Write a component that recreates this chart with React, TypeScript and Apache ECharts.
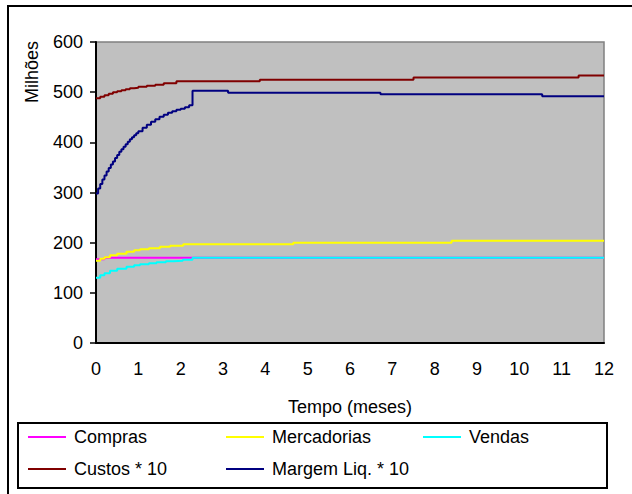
import React, { useEffect, useRef } from "react";
import * as echarts from "echarts";

const xTicks = [0, 12];
const yTicks = [0, 600];

const comprasT = [0, 0.2, 12];
const comprasV = [167, 170, 170];

const mercT = [0, 0.1, 0.2, 0.33, 0.5, 0.72, 0.9, 1.04, 1.25, 1.51, 1.75, 2.06, 4.66, 8.4, 12];
const mercV = [164, 168, 171, 175, 178, 182, 185, 187, 189, 192, 194, 197, 200, 204, 204];

const vendasT = [0, 0.1, 0.2, 0.33, 0.5, 0.72, 0.9, 1.04, 1.25, 1.43, 1.65, 1.83, 2.05, 2.28, 12];
const vendasV = [130, 135, 139, 144, 148, 152, 155, 157, 159, 161, 163, 164, 166, 170, 170];

const custosT = [0, 0.1, 0.2, 0.3, 0.4, 0.5, 0.6, 0.7, 0.8, 0.9, 1.0, 1.2, 1.4, 1.6, 1.9, 3.87, 7.5, 11.4, 12];
const custosV = [488, 491, 494, 497, 500, 502, 504, 506, 508, 509, 511, 513, 515, 518, 522, 525, 529, 533, 533];

const margemT = [0, 0.05, 0.1, 0.15, 0.2, 0.25, 0.3, 0.35, 0.4, 0.45, 0.5, 0.55, 0.6, 0.65, 0.7, 0.75, 0.8, 0.85, 0.9, 0.95, 1.0, 1.1, 1.2, 1.3, 1.4, 1.5, 1.6, 1.7, 1.8, 1.9, 2.0, 2.1, 2.2, 2.28, 3.12, 6.72, 10.54, 12];
const margemV = [298, 308, 317, 326, 334, 342, 349, 356, 362, 369, 375, 381, 386, 391, 396, 401, 406, 410, 414, 418, 422, 429, 435, 441, 446, 451, 455, 459, 462, 465, 467, 470, 474, 503, 499, 496, 492, 492];

const names = ["Compras", "Mercadorias", "Vendas", "Custos * 10", "Margem Liq. * 10"];
const colors = ["#FF00FF", "#FFFF00", "#00FFFF", "#800000", "#000080"];

const FONT = "'Liberation Sans', Arial, sans-serif";
const FS = 18;

function pairs(t: number[], v: number[]) {
  return t.map((x, i) => [x, v[i]]);
}

export default function App() {
  const ref = useRef<HTMLDivElement>(null);
  useEffect(() => {
    if (!ref.current) return;
    const chart = echarts.init(ref.current, null, { renderer: "svg" });
    const seriesData = [
      pairs(comprasT, comprasV),
      pairs(mercT, mercV),
      pairs(vendasT, vendasV),
      pairs(custosT, custosV),
      pairs(margemT, margemV),
    ];
    const legendPos = [
      { left: 28, top: 428 },
      { left: 226, top: 428 },
      { left: 423, top: 428 },
      { left: 28, top: 460 },
      { left: 226, top: 460 },
    ];
    chart.setOption({
      animation: false,
      backgroundColor: "#FFFFFF",
      textStyle: { fontFamily: FONT },
      grid: {
        left: 96,
        top: 42,
        width: 508,
        height: 301,
        show: true,
        backgroundColor: "#C0C0C0",
        borderColor: "#808080",
        borderWidth: 1.5,
      },
      xAxis: {
        type: "value",
        min: xTicks[0],
        max: xTicks[1],
        interval: 1,
        name: "Tempo (meses)",
        nameLocation: "middle",
        nameGap: 55,
        nameTextStyle: { fontSize: FS, color: "#000", fontFamily: FONT },
        axisLine: { show: true, onZero: false, lineStyle: { color: "#000", width: 2 } },
        axisTick: { show: false },
        axisLabel: { fontSize: FS, color: "#000", margin: 17, fontFamily: FONT },
        splitLine: { show: false },
      },
      yAxis: {
        type: "value",
        min: yTicks[0],
        max: yTicks[1],
        interval: 100,
        axisLine: { show: true, lineStyle: { color: "#000", width: 2 } },
        axisTick: { show: true, length: 6, lineStyle: { color: "#000", width: 1.5 } },
        axisLabel: { fontSize: FS, color: "#000", margin: 13, fontFamily: FONT },
        splitLine: { show: false },
      },
      legend: names.map((n, i) => ({
        data: [n],
        left: legendPos[i].left,
        top: legendPos[i].top,
        padding: 0,
        icon: "rect",
        itemWidth: 38,
        itemHeight: 2,
        itemGap: 0,
        selectedMode: false,
        textStyle: { fontSize: FS, color: "#000", fontFamily: FONT, padding: [0, 0, 0, 3] },
      })),
      graphic: [
        {
          type: "rect",
          shape: { x: 8, y: 6, width: 640, height: 510 },
          style: { fill: "none", stroke: "#000", lineWidth: 2 },
          silent: true,
          z: -1,
        },
        {
          type: "rect",
          shape: { x: 18, y: 423, width: 589, height: 65 },
          style: { fill: "#FFFFFF", stroke: "#000", lineWidth: 2 },
          silent: true,
          z: -1,
        },
        {
          type: "text",
          x: 32,
          y: 72,
          rotation: Math.PI / 2,
          style: {
            text: "Milhões",
            fontSize: FS,
            fontFamily: FONT,
            fill: "#000",
            align: "center",
            verticalAlign: "middle",
          },
        },
      ],
      series: names.map((n, i) => ({
        name: n,
        type: "line",
        step: "end",
        showSymbol: false,
        symbol: "none",
        data: seriesData[i],
        itemStyle: { color: colors[i] },
        lineStyle: { color: colors[i], width: 2 },
      })),
    });
    return () => chart.dispose();
  }, []);
  return (
    <div
      ref={ref}
      style={{ position: "absolute", left: 0, top: 0, width: 632, height: 494 }}
    />
  );
}
